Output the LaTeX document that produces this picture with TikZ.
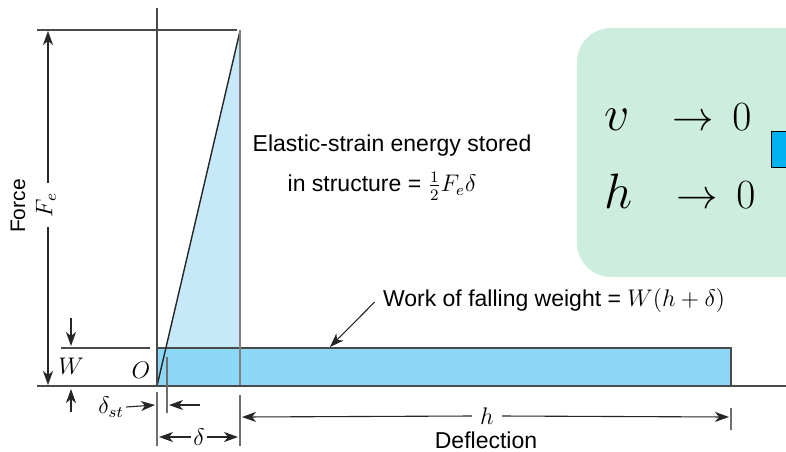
\documentclass[tikz,border=0pt]{standalone}
\usepackage{fontspec}
\setmainfont{Liberation Sans}
\usepackage{tikz}
\usetikzlibrary{arrows.meta}
\usetikzlibrary{positioning}

\definecolor{strainblue}{HTML}{C6E8F9}
\definecolor{workblue}{HTML}{8DD7F7}
\definecolor{notegreen}{HTML}{CDEDDF}
\definecolor{markblue}{HTML}{00B2F0}
\definecolor{axisgray}{HTML}{4A4A4A}

\tikzset{
  dimline/.style={draw=black!85, line width=0.55pt, -{Stealth[length=7pt,width=5pt,inset=2pt]}},
  tickline/.style={draw=axisgray!80, line width=0.6pt},
  axisline/.style={draw=axisgray, line width=0.7pt},
  lbl/.style={inner sep=1pt, font=\fontsize{11.5}{13}\selectfont},
  bigmath/.style={inner sep=0pt, font=\fontsize{21}{24}\selectfont},
  bigsym/.style={inner sep=0pt, font=\fontsize{25}{28}\selectfont},
}

\begin{document}
\begin{tikzpicture}[x=0.5pt,y=-0.5pt]
                \clip (0,0) rectangle (786,451);
                % note box on the right
                \fill[notegreen, rounded corners=17pt] (577,28) rectangle (840,277);
                \filldraw[fill=markblue, draw=black, line width=0.5pt] (771,131) rectangle (800,167);
                \node[bigsym, anchor=base west] (vsym) at (604,130) {$v$};
                \node[bigmath, anchor=base west] (varr) at (672,130) {$\to$};
                \node[bigmath, anchor=base west] (vzero) at (732,130) {$0$};
                \node[bigsym, anchor=base west] (hsym) at (604,208) {$h$};
                \node[bigmath, anchor=base west] (harr) at (676,208) {$\to$};
                \node[bigmath, anchor=base west] (hzero) at (736,208) {$0$};
                % energy areas
                \fill[strainblue] (157,386) -- (240,30) -- (240,386) -- cycle;
                \filldraw[fill=workblue, draw=axisgray, line width=0.7pt] (157,348) rectangle (731,386);
                \draw[line width=0.7pt, black!85] (157,386) -- (240,31);
                \draw[draw=gray, line width=0.6pt] (240,30) -- (240,386);
                % axes
                \draw[axisline] (157,8) -- (157,386);
                \draw[axisline] (37,386) -- (786,386);
                \draw[axisline] (37,30) -- (237,30);
                \draw[axisline] (61,348) -- (150,348);
                % force dimension
                \node[lbl, rotate=90, font=\fontsize{10.5}{12}\selectfont] (force) at (18,206) {Force};
                \node[lbl, rotate=90, inner sep=2pt] (fe) at (46,205) {$F_e$};
                \coordinate (fetop) at (48,31);
                \coordinate (febot) at (48,385);
                \draw[dimline] (48,183) -- (fetop);
                \draw[dimline] (48,227) -- (febot);
                % weight
                \node[lbl] (wlab) at (71,366) {$W$};
                \node[lbl] (olab) at (141,370) {$O$};
                \draw[dimline] (71,318) -- (71,346);
                \draw[dimline] (71,412) -- (71,389);
                % static deflection
                \node[lbl] (dst) at (111,407) {$\delta_{st}$};
                \coordinate (dstend) at (155,405);
                \coordinate (dstin) at (169,405);
                \draw[dimline] (dst.east) -- (dstend);
                \draw[dimline] (200,405) -- (dstin);
                \draw[tickline] (167,357) -- (167,413);
                % delta
                \draw[tickline] (157,392) -- (157,446);
                \draw[tickline] (240,395) -- (240,446);
                \node[lbl] (dlab) at (199,437) {$\delta$};
                \coordinate (dleft) at (159,437);
                \coordinate (dright) at (238,437);
                \draw[dimline] (dlab.west) -- (dleft);
                \draw[dimline] (dlab.east) -- (dright);
                % h
                \draw[tickline] (731,408) -- (731,430);
                \node[lbl, inner sep=4pt] (hlab) at (487,416) {$h$};
                \node[lbl] (defl) at (486,440) {Deflection};
                \coordinate (hleft) at (242,417);
                \coordinate (hright) at (729,417);
                \draw[dimline] (hlab.west) -- (hleft);
                \draw[dimline] (hlab.east) -- (hright);
                % labels
                \node[lbl] (strain) at (392,146) {Elastic-strain energy stored};
                \node[lbl] (strainb) at (382,186) {in structure = $\frac{1}{2}F_e\delta$};
                \node[lbl] (work) at (554,300) {Work of falling weight = $W(h + \delta)$};
                \coordinate (workhit) at (330,347);
                \draw[dimline] ([xshift=-3pt,yshift=-1pt]work.west) -- (workhit);
\end{tikzpicture}
\end{document}
